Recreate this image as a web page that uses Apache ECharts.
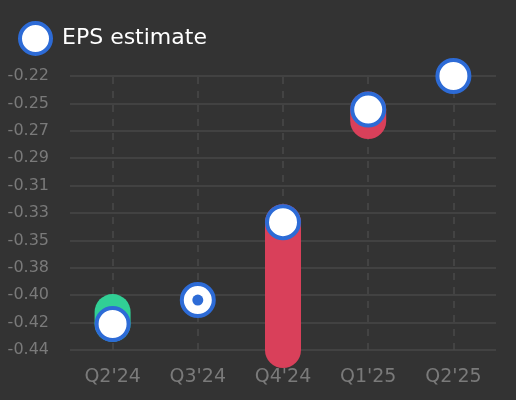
<!DOCTYPE html>
<html>
<head>
<meta charset="utf-8">
<style>
  html, body { margin: 0; padding: 0; background: #333333; }
  #chart { width: 516px; height: 400px; }
</style>
<script src="https://cdn.jsdelivr.net/npm/echarts@6.0.0/dist/echarts.min.js"></script>
</head>
<body>
<div id="chart"></div>
<script>
// quarters on the x axis
const categories = ["Q2'24", "Q3'24", "Q4'24", "Q1'25", "Q2'25"];
// EPS consensus estimate per quarter
const epsEstimate = [-0.421, -0.402, -0.34, -0.2504, -0.2237];
// reported EPS (null = not reported yet)
const epsActual = [-0.4115, -0.402, -0.4417, -0.2595, null];
// y axis range, as the picture shows it
const axisMin = -0.4417;
const axisMax = -0.2237;
const axisStep = 0.0218;

const BLUE = "#2d6bd6";
const GREEN = "#31cf95";
const RED = "#d9405a";

// capsule from estimate to actual, one per reported quarter
const spanData = [];
// quarters where actual == estimate get a dot inside the marker
const metData = [];
epsActual.forEach((act, i) => {
  if (act === null) return;
  if (act === epsEstimate[i]) {
    metData.push([i, act]);
  } else {
    spanData.push([i, epsEstimate[i], act]);
  }
});

var myChart = echarts.init(document.getElementById("chart"));

var option = {
  backgroundColor: "#333333",
  textStyle: { fontFamily: "DejaVu Sans" },
  animation: false,
  legend: {
    data: ["EPS estimate"],
    left: 18,
    top: 21,
    padding: 0,
    icon: "circle",
    itemWidth: 31,
    itemHeight: 31,
    itemGap: 8,
    itemStyle: { borderWidth: 4 },
    textStyle: { color: "#ffffff", fontSize: 22, padding: [0, 0, 0, 6] },
  },
  grid: {
    left: 70,
    right: 20,
    top: 76,
    bottom: 50,
  },
  xAxis: {
    type: "category",
    data: categories,
    axisLine: { show: false },
    axisTick: { show: false },
    axisLabel: { color: "#7a7a7a", fontSize: 19, margin: 18 },
    splitLine: { show: false },
  },
  yAxis: {
    type: "value",
    min: axisMin,
    max: axisMax,
    interval: axisStep,
    axisLine: { show: false },
    axisTick: { show: false },
    axisLabel: {
      color: "#7a7a7a",
      fontSize: 16,
      margin: 21,
      formatter: (v) => v.toFixed(2),
    },
    splitLine: { lineStyle: { color: "#484848", width: 1.5 } },
  },
  series: [
    {
      // dashed guide at each quarter, kept under the marks
      name: "guides",
      type: "line",
      z: 0,
      data: [],
      markLine: {
        z: 0,
        silent: true,
        symbol: "none",
        label: { show: false },
        lineStyle: { color: "#4a4a4a", type: [7, 7], width: 1.5 },
        data: categories.map((c) => ({ xAxis: c })),
      },
    },
    {
      name: "EPS actual",
      type: "custom",
      clip: false,
      z: 1,
      encode: { x: 0, y: [1, 2] },
      data: spanData,
      renderItem: (params, api) => {
        const est = api.coord([api.value(0), api.value(1)]);
        const act = api.coord([api.value(0), api.value(2)]);
        const beat = api.value(2) > api.value(1);
        return {
          type: "line",
          shape: { x1: est[0], y1: est[1], x2: act[0], y2: act[1] },
          style: { stroke: beat ? GREEN : RED, lineWidth: 36, lineCap: "round" },
        };
      },
    },
    {
      name: "EPS estimate",
      type: "scatter",
      z: 2,
      symbol: "circle",
      symbolSize: 32,
      itemStyle: { color: "#ffffff", borderColor: BLUE, borderWidth: 4, opacity: 1 },
      data: epsEstimate.map((v, i) => [i, v]),
    },
    {
      name: "EPS met",
      type: "scatter",
      z: 3,
      symbolSize: 11,
      itemStyle: { color: BLUE, opacity: 1 },
      data: metData,
    },
  ],
};

option && myChart.setOption(option);
</script>
</body>
</html>
